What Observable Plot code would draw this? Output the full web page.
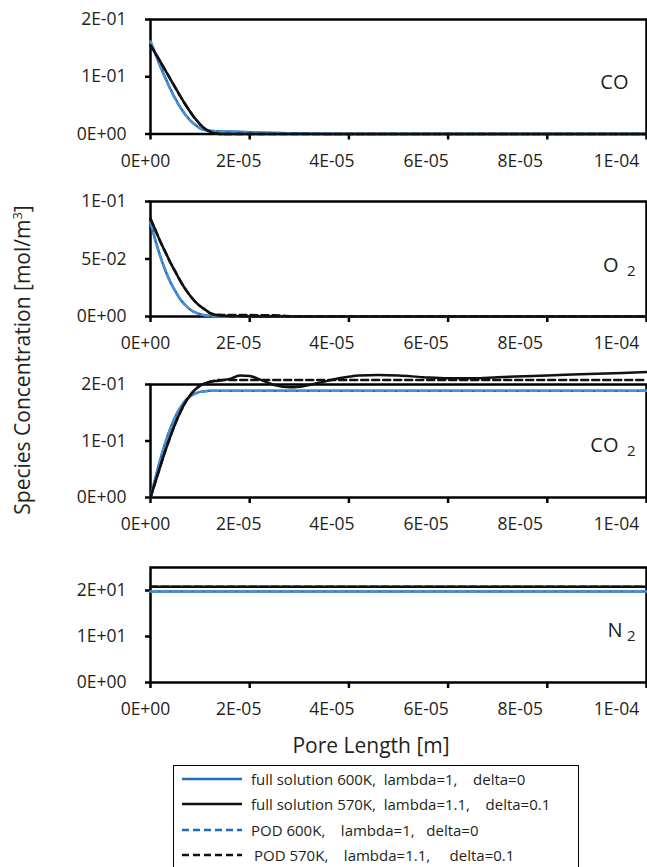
<!DOCTYPE html>
<html>
<head>
<meta charset="utf-8">
<script src="https://cdn.jsdelivr.net/npm/d3@7"></script>
<script src="https://cdn.jsdelivr.net/npm/@observablehq/plot@0.6"></script>
<style>
  html, body { margin: 0; padding: 0; background: #fff; }
  #root { position: relative; width: 647px; height: 867px; overflow: hidden; font-family: "Open Sans", sans-serif; color: #231f20; }
  .panel { position: absolute; left: 0; }
  .panel svg { overflow: visible; }
  #ytitle { position: absolute; left: 22px; top: 360px; transform: translate(-50%, -50%) rotate(-90deg); white-space: nowrap; font-size: 21px; }
  #ytitle sup { font-size: 13px; vertical-align: super; line-height: 0; }
  #xtitle { position: absolute; left: 371px; top: 745px; transform: translate(-50%, -50%); white-space: nowrap; font-size: 21px; }
  #legend { position: absolute; left: 173px; top: 765px; width: 404px; height: 120px; border: 1.5px solid #000; background: #fff; }
  .lrow { position: absolute; left: 0; height: 20px; width: 100%; }
  .lrow svg { position: absolute; left: 6px; top: 0; }
  .lrow span { position: absolute; top: 0; line-height: 20px; font-size: 15px; white-space: pre; }
</style>
</head>
<body>
<div id="root">
  <div id="ytitle">Species Concentration [mol/m<sup>3</sup>]</div>
  <div id="xtitle">Pore Length [m]</div>
  <div id="legend"></div>
</div>
<script>
// ---------- shared axis data ----------
const xTickValues = [0, 20, 40, 60, 80, 100];            // pore length in micrometres
const xTickLabels = ["0E+00", "2E-05", "4E-05", "6E-05", "8E-05", "1E-04"];

// ---------- CO ----------
const coX       = [0, 1, 2, 3, 4, 5, 6, 7, 8, 9, 10, 11, 12, 13, 15, 20, 30, 40, 100];
const coFull600 = [0.162, 0.140, 0.118, 0.098, 0.079, 0.062, 0.047, 0.034, 0.024, 0.016, 0.010, 0.007, 0.0055, 0.005, 0.0045, 0.003, 0.001, 0, 0];
const coFull570 = [0.155, 0.141, 0.126, 0.111, 0.096, 0.081, 0.066, 0.052, 0.039, 0.027, 0.017, 0.009, 0.004, 0.001, 0, 0, 0, 0, 0];
const coPod600  = [0.161, 0.139, 0.117, 0.097, 0.078, 0.061, 0.046, 0.034, 0.024, 0.016, 0.010, 0.007, 0.0055, 0.005, 0.0045, 0.003, 0.001, 0, 0];
const coPod570  = [0.155, 0.141, 0.126, 0.111, 0.096, 0.081, 0.066, 0.052, 0.039, 0.027, 0.017, 0.009, 0.004, 0.001, 0, 0, 0, 0, 0];
const coTicks = [0, 0.1, 0.2];
const coTickLabels = ["0E+00", "1E-01", "2E-01"];

// ---------- O2 ----------
const o2X       = [0, 1, 2, 3, 4, 5, 6, 7, 8, 9, 10, 11, 12, 13, 14, 16, 18, 20, 25, 30, 100];
const o2Full600 = [0.082, 0.066, 0.052, 0.040, 0.030, 0.022, 0.015, 0.010, 0.006, 0.0035, 0.002, 0.001, 0.0005, 0.0002, 0.0001, 0, 0, 0, 0, 0, 0];
const o2Full570 = [0.085, 0.075, 0.065, 0.056, 0.047, 0.039, 0.031, 0.024, 0.018, 0.013, 0.009, 0.006, 0.003, 0.0015, 0.0008, 0.0003, 0.0001, 0, 0, 0, 0];
const o2Pod600  = [0.082, 0.066, 0.052, 0.040, 0.030, 0.022, 0.015, 0.010, 0.006, 0.0035, 0.002, 0.001, 0.0005, 0.0002, 0.0001, 0, 0, 0, 0, 0, 0];
const o2Pod570  = [0.085, 0.075, 0.065, 0.056, 0.047, 0.039, 0.031, 0.024, 0.018, 0.013, 0.009, 0.006, 0.003, 0.0018, 0.0015, 0.0012, 0.0012, 0.0012, 0.001, 0, 0];
const o2Ticks = [0, 0.05, 0.1];
const o2TickLabels = ["0E+00", "5E-02", "1E-01"];

// ---------- CO2 ----------
const co2X       = [0, 1, 2, 3, 4, 5, 6, 7, 8, 9, 10, 11, 12, 13, 14, 16, 18, 20, 22, 25, 28, 30, 34, 38, 42, 46, 50, 55, 60, 65, 70, 80, 90, 100];
const co2Full600 = [0, 0.035, 0.068, 0.097, 0.122, 0.143, 0.159, 0.171, 0.179, 0.184, 0.187, 0.188, 0.189, 0.189, 0.189, 0.189, 0.189, 0.189, 0.189, 0.189, 0.189, 0.189, 0.189, 0.189, 0.189, 0.189, 0.189, 0.189, 0.189, 0.189, 0.189, 0.189, 0.189, 0.189];
const co2Full570 = [0, 0.028, 0.056, 0.083, 0.108, 0.131, 0.151, 0.168, 0.181, 0.191, 0.198, 0.202, 0.205, 0.206, 0.207, 0.210, 0.216, 0.215, 0.209, 0.199, 0.195, 0.196, 0.203, 0.211, 0.216, 0.217, 0.216, 0.213, 0.211, 0.211, 0.213, 0.216, 0.219, 0.222];
const co2Pod600  = [0, 0.035, 0.068, 0.097, 0.122, 0.143, 0.159, 0.171, 0.179, 0.184, 0.187, 0.188, 0.189, 0.189, 0.189, 0.189, 0.189, 0.189, 0.189, 0.189, 0.189, 0.189, 0.189, 0.189, 0.189, 0.189, 0.189, 0.189, 0.189, 0.189, 0.189, 0.189, 0.189, 0.189];
const co2Pod570  = [0, 0.028, 0.056, 0.083, 0.108, 0.131, 0.151, 0.168, 0.181, 0.191, 0.198, 0.202, 0.205, 0.207, 0.208, 0.208, 0.208, 0.208, 0.208, 0.208, 0.208, 0.208, 0.208, 0.208, 0.208, 0.208, 0.208, 0.208, 0.208, 0.208, 0.208, 0.208, 0.208, 0.208];
const co2Ticks = [0, 0.1, 0.2];
const co2TickLabels = ["0E+00", "1E-01", "2E-01"];

// ---------- N2 ----------
const n2X       = [0, 100];
const n2Full600 = [19.8, 19.8];
const n2Full570 = [20.8, 20.8];
const n2Pod600  = [19.8, 19.8];
const n2Pod570  = [20.8, 20.8];
const n2Ticks = [0, 10, 20];
const n2TickLabels = ["0E+00", "1E+01", "2E+01"];

// ---------- legend ----------
const legendLabels = [
  "full solution 600K,  lambda=1,    delta=0",
  "full solution 570K,  lambda=1.1,    delta=0.1",
  "POD 600K,    lambda=1,   delta=0",
  "POD 570K,    lambda=1.1,     delta=0.1"
];

// ---------- styling ----------
const BLUE = "#1f6db6", BLUE_POD = "#4a90d4", BLACK = "#111";
const DASH = "7,4";
const seriesStyle = [
  {stroke: BLUE, dash: null},
  {stroke: BLUE_POD, dash: DASH},
  {stroke: BLACK, dash: null},
  {stroke: BLACK, dash: DASH}
];
const xLabelShift = [-5, -11, -17, -22, -27, -30];   // label offsets from their ticks, as in the original
const FONT = "'Open Sans', sans-serif";
const TICK_FS = 17.5;

function rows(xs, ys) { return xs.map((x, i) => ({x, y: ys[i]})); }

function makePanel(cfg) {
  const yMap = new Map(cfg.yTicks.map((t, i) => [t, cfg.yTickLabels[i]]));
  const series = [cfg.full600, cfg.pod600, cfg.full570, cfg.pod570];
  const lineMarks = series.map((ys, k) => Plot.line(rows(cfg.xs, ys), {
    x: "x", y: "y", stroke: seriesStyle[k].stroke, strokeWidth: 2.5,
    strokeDasharray: seriesStyle[k].dash, curve: "monotone-x", clip: false
  }));
  const xLabelMarks = xTickValues.map((v, i) => Plot.text([v], {
    x: d => d, frameAnchor: "bottom", dy: 27, dx: xLabelShift[i],
    text: () => xTickLabels[i], fontSize: TICK_FS, fill: "#231f20", textAnchor: "middle", lineAnchor: "middle"
  }));
  const chart = Plot.plot({
    width: 647, height: cfg.height,
    marginLeft: 150, marginRight: 1, marginTop: cfg.mt, marginBottom: cfg.mb,
    style: {fontFamily: FONT, background: "transparent", overflow: "visible"},
    x: {domain: [0, 100]},
    y: {domain: cfg.yDomain},
    marks: [
      Plot.axisY(cfg.yTicks, {tickSize: 5, strokeWidth: 2.5, stroke: "#000", tickFormat: () => "", label: null}),
      Plot.axisX(xTickValues, {tickSize: 6, strokeWidth: 2.5, stroke: "#000", tickFormat: () => "", label: null}),
      Plot.text(cfg.yTicks, {y: d => d, frameAnchor: "left", textAnchor: "end", dx: -24, text: d => yMap.get(d), fontSize: TICK_FS, fill: "#231f20"}),
      ...xLabelMarks,
      Plot.frame({stroke: "#000", strokeWidth: 2.5}),
      ...lineMarks,
      Plot.text([cfg.label], {x: 100, y: cfg.labelY, text: d => d, textAnchor: "end", dx: cfg.labelDx, fontSize: 20, fill: "#231f20"}),
      ...(cfg.sub ? [Plot.text([cfg.sub], {x: 100, y: cfg.labelY, text: d => d, textAnchor: "end", dx: -11, dy: 6, fontSize: 15, fill: "#231f20"})] : [])
    ]
  });
  const div = document.createElement("div");
  div.className = "panel";
  div.style.top = cfg.top + "px";
  div.appendChild(chart);
  document.getElementById("root").appendChild(div);
}

makePanel({top: 0, height: 170, mt: 19, mb: 36.5, yDomain: [0, 0.2], yTicks: coTicks, yTickLabels: coTickLabels,
  xs: coX, full600: coFull600, full570: coFull570, pod600: coPod600, pod570: coPod570,
  label: "CO", labelY: 0.09, labelDx: -18});
makePanel({top: 170, height: 170, mt: 31, mb: 24, yDomain: [0, 0.1], yTicks: o2Ticks, yTickLabels: o2TickLabels,
  xs: o2X, full600: o2Full600, full570: o2Full570, pod600: o2Pod600, pod570: o2Pod570,
  label: "O", sub: "2", labelY: 0.0443, labelDx: -28});
makePanel({top: 340, height: 180, mt: 44, mb: 23, yDomain: [0, 0.2], yTicks: co2Ticks, yTickLabels: co2TickLabels,
  xs: co2X, full600: co2Full600, full570: co2Full570, pod600: co2Pod600, pod570: co2Pod570,
  label: "CO", sub: "2", labelY: 0.092, labelDx: -28});
makePanel({top: 520, height: 200, mt: 47, mb: 38, yDomain: [0, 25], yTicks: n2Ticks, yTickLabels: n2TickLabels,
  xs: n2X, full600: n2Full600, full570: n2Full570, pod600: n2Pod600, pod570: n2Pod570,
  label: "N", sub: "2", labelY: 11.3, labelDx: -24});

// legend
const legend = document.getElementById("legend");
const legendStyle = [seriesStyle[0], seriesStyle[2], {stroke: BLUE, dash: DASH}, seriesStyle[3]];
const legendTextLeft = [77, 77, 77, 80];
legendLabels.forEach((txt, i) => {
  const row = document.createElement("div");
  row.className = "lrow";
  row.style.top = (3 + i * 25.3) + "px";
  const st = legendStyle[i];
  row.innerHTML = `<svg width="64" height="20"><line x1="2" x2="62" y1="10" y2="10" stroke="${st.stroke}" stroke-width="2.5" ${st.dash ? `stroke-dasharray="${st.dash}"` : ""}/></svg><span style="left:${legendTextLeft[i]}px">${txt}</span>`;
  legend.appendChild(row);
});
</script>
</body>
</html>
